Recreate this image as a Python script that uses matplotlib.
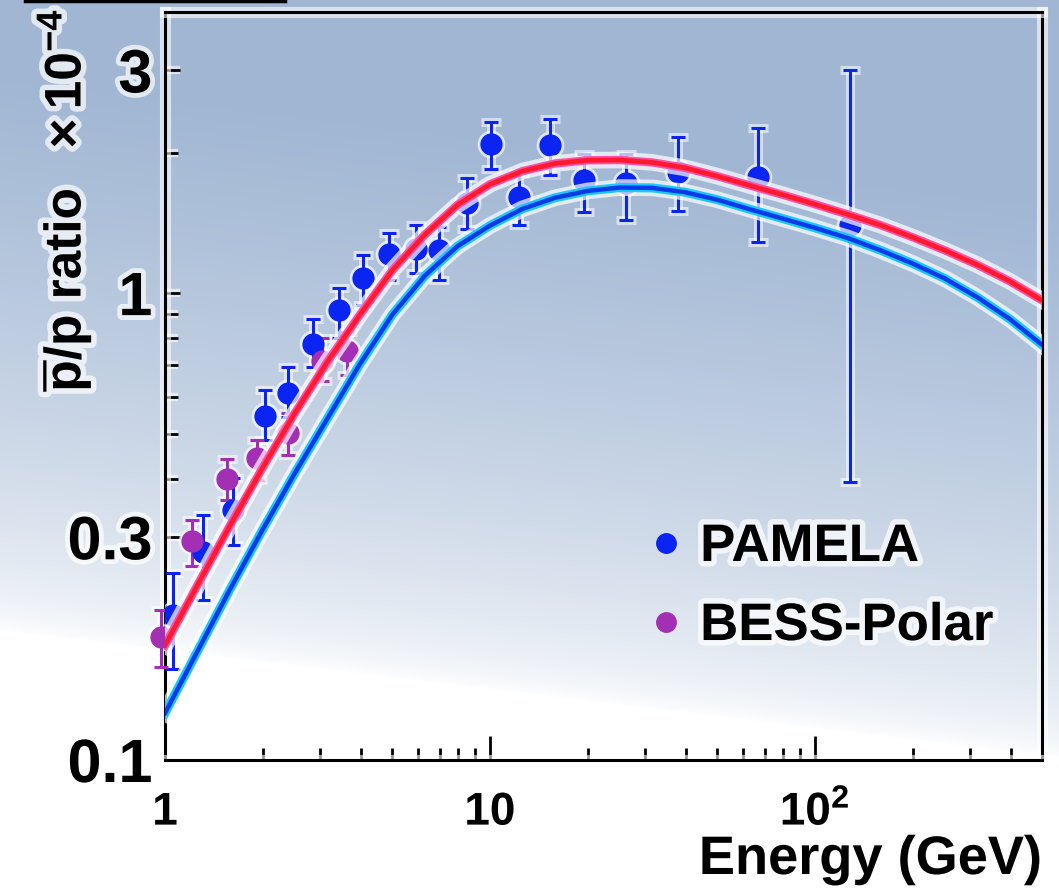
import numpy as np
import matplotlib
matplotlib.use("Agg")
import matplotlib.pyplot as plt
import matplotlib.patheffects as pe
from matplotlib.lines import Line2D
from matplotlib.ticker import FixedLocator, FixedFormatter, NullFormatter

plt.rcParams['font.family'] = ['Liberation Sans', 'DejaVu Sans']
plt.rcParams['font.weight'] = 'bold'
plt.rcParams['mathtext.fontset'] = 'custom'
plt.rcParams['mathtext.rm'] = 'Liberation Sans:bold'
plt.rcParams['mathtext.bf'] = 'Liberation Sans:bold'
plt.rcParams['mathtext.it'] = 'Liberation Sans:bold'
plt.rcParams['mathtext.sf'] = 'Liberation Sans:bold'

# ---- measurements (antiproton / proton ratio, units of 1e-4) ----
pamela_E = [1.055, 1.305, 1.614, 2.025, 2.385, 2.846, 3.42, 4.06, 4.88, 5.91,
            6.96, 8.48, 10.06, 12.27, 15.28, 19.45, 26.2, 37.9, 66.8, 128.3]
pamela_ratio = [0.2045, 0.279, 0.343, 0.545, 0.61, 0.777, 0.918, 1.075, 1.21, 1.246,
                1.234, 1.556, 2.09, 1.61, 2.08, 1.75, 1.725, 1.82, 1.777, 1.396]
pamela_hi = [0.251, 0.334, 0.402, 0.619, 0.694, 0.878, 1.028, 1.204, 1.342, 1.396,
             1.382, 1.76, 2.33, 1.81, 2.36, 1.99, 1.99, 2.16, 2.26, 3.01]
pamela_lo = [0.157, 0.220, 0.289, 0.484, 0.542, 0.694, 0.80, 0.941, 1.065, 1.102,
             1.065, 1.369, 1.84, 1.40, 1.79, 1.49, 1.437, 1.50, 1.284, 0.394]

bess_E = [0.975, 1.215, 1.547, 1.913, 2.384, 3.034, 3.62]
bess_ratio = [0.1835, 0.294, 0.3995, 0.443, 0.501, 0.714, 0.75]
bess_hi = [0.21, 0.3265, 0.441, 0.484, 0.553, 0.80, 0.824]
bess_lo = [0.158, 0.260, 0.360, 0.3975, 0.4496, 0.647, 0.667]

# ---- model curves ----
model_E = [1.0, 1.259, 1.585, 1.995, 2.512, 3.162, 3.981, 5.012, 6.310, 7.943,
           10.0, 12.59, 15.85, 19.95, 25.12, 31.62, 39.81, 50.1, 63.1, 79.4,
           100.0, 125.9, 158.5, 199.5, 251.0, 316.0, 398.0, 500.0]
upper_ratio = [0.176, 0.237, 0.318, 0.422, 0.554, 0.713, 0.899, 1.12, 1.335, 1.545,
               1.71, 1.825, 1.895, 1.925, 1.928, 1.905, 1.855, 1.78, 1.70, 1.625,
               1.55, 1.475, 1.40, 1.318, 1.235, 1.15, 1.06, 0.965]
lower_ratio = [0.126, 0.171, 0.232, 0.311, 0.412, 0.539, 0.705, 0.90, 1.09, 1.26,
               1.395, 1.515, 1.60, 1.655, 1.683, 1.68, 1.645, 1.585, 1.512, 1.445,
               1.38, 1.313, 1.237, 1.158, 1.075, 0.98, 0.88, 0.775]

x_ticks = [1, 10, 100]
x_ticklabels = ['1', '10', r'$10^{2}$']
y_ticks = [0.1, 0.3, 1, 3]
y_ticklabels = ['0.1', '0.3', '1', '3']

W, H, DPI = 1059, 892, 100
fig = plt.figure(figsize=(W / DPI, H / DPI), dpi=DPI)

# sky-like backdrop: pale blue above a slanted edge, white below
yy, xx = np.mgrid[0:H, 0:W].astype(float)
edge = 600 + 0.12 * xx
d = edge - yy
f = np.clip((d + 30) / 560, 0, 1) ** 0.6
top = np.array([160, 182, 211]) / 255.0
img = 1 + (top[None, None, :] - 1) * f[..., None]
bg = fig.add_axes([0, 0, 1, 1], zorder=-10)
bg.imshow(img, aspect='auto', extent=[0, 1, 0, 1], interpolation='bilinear')
bg.axis('off')

# dark bar clipped at the very top-left
fig.add_artist(Line2D([25 / W, 285 / W], [1 - 1.2 / H, 1 - 1.2 / H],
                      color='black', lw=2.5, transform=fig.transFigure))

ax = fig.add_axes([165 / W, 1 - 760 / H, (1042 - 165) / W, (760 - 12) / H])
ax.set_facecolor('none')
ax.set_xscale('log')
ax.set_yscale('log')
ax.set_xlim(1, 500)
ax.set_ylim(0.1, 4.0)


def glow(w, a=0.7):
    return [pe.Stroke(linewidth=w, foreground='white', alpha=a), pe.Normal()]


def draw_points(E, r, lo, hi, color, clip=True):
    r = np.asarray(r)
    yerr = np.vstack([r - np.asarray(lo), np.asarray(hi) - r])
    # pale halo underneath, then the coloured points
    halo = ax.errorbar(E, r, yerr=yerr, fmt='o', color='white', ms=19, mec='white',
                       elinewidth=6.5, capsize=7, capthick=6.5, alpha=0.55, zorder=2.5)
    main = ax.errorbar(E, r, yerr=yerr, fmt='o', color=color, ms=15, mec=color,
                       elinewidth=2.2, capsize=5, capthick=2.2, zorder=3)
    for cont in (halo, main):
        for art in [cont.lines[0], *cont.lines[1], *cont.lines[2]]:
            art.set_clip_on(clip)
    return main


draw_points(pamela_E, pamela_ratio, pamela_lo, pamela_hi, '#0a24f2')
draw_points(bess_E, bess_ratio, bess_lo, bess_hi, '#a22fb4', clip=False)

# model curves on top of the points with a soft halo
ax.plot(model_E, lower_ratio, color='#0a3ae8', lw=3.2, zorder=5,
        solid_joinstyle='round',
        path_effects=[pe.Stroke(linewidth=12, foreground='white', alpha=0.7),
                      pe.Stroke(linewidth=6.5, foreground='#18c8ff'),
                      pe.Normal()])
ax.plot(model_E, upper_ratio, color='#ff1a2e', lw=3.4, zorder=6,
        solid_joinstyle='round',
        path_effects=[pe.Stroke(linewidth=12, foreground='white', alpha=0.7),
                      pe.Stroke(linewidth=6, foreground='#ff50a8'),
                      pe.Normal()])

# axes frame and ticks
for s in ax.spines.values():
    s.set_linewidth(2.2)
    s.set_color('black')
    s.set_path_effects(glow(8, 0.6))

ax.xaxis.set_major_locator(FixedLocator(x_ticks))
ax.xaxis.set_major_formatter(FixedFormatter(x_ticklabels))
ax.xaxis.set_minor_locator(FixedLocator([k * 10 ** p for p in range(3) for k in range(2, 10)
                                         if k * 10 ** p <= 500]))
ax.xaxis.set_minor_formatter(NullFormatter())
ax.yaxis.set_major_locator(FixedLocator(y_ticks))
ax.yaxis.set_major_formatter(FixedFormatter(y_ticklabels))
ax.yaxis.set_minor_locator(FixedLocator([0.2, 0.4, 0.5, 0.6, 0.7, 0.8, 0.9, 2]))
ax.yaxis.set_minor_formatter(NullFormatter())

ax.tick_params(which='both', direction='in', width=2.0, color='black', top=False, right=False)
ax.tick_params(which='major', length=17)
ax.tick_params(which='minor', length=9)
ax.tick_params(axis='y', which='major', length=11)
ax.tick_params(axis='x', labelsize=33, pad=22)
ax.tick_params(axis='y', labelsize=44, pad=9)
# longer marks at the decades on the y axis
for t in ax.yaxis.get_major_ticks():
    if t.get_loc() in (0.1, 1):
        t.tick1line.set_markersize(18)

for lab in ax.get_xticklabels() + ax.get_yticklabels():
    lab.set_fontweight('bold')
    lab.set_path_effects(glow(7, 0.7))
for t in ax.xaxis.get_major_ticks() + ax.xaxis.get_minor_ticks() + \
         ax.yaxis.get_major_ticks() + ax.yaxis.get_minor_ticks():
    t.tick1line.set_path_effects(glow(6, 0.6))

text_glow = glow(8, 0.7)
fig.text(1042 / W, 1 - 860 / H, 'Energy (GeV)', ha='right', va='center',
         fontsize=39, fontweight='bold', path_effects=text_glow)
fig.text(64 / W, 1 - 9 / H, r'$\overline{\mathrm{p}}\mathrm{/p\ ratio\ \ \times10^{-4}}$',
         rotation=90, ha='center', va='top', fontsize=37, path_effects=text_glow)

handles = [Line2D([], [], ls='', marker='o', ms=14, color='#0a24f2', mec='#0a24f2'),
           Line2D([], [], ls='', marker='o', ms=14, color='#a22fb4', mec='#a22fb4')]
leg = ax.legend(handles, ['PAMELA', 'BESS-Polar'], loc='upper left',
                bbox_to_anchor=((650 - 165) / (1042 - 165), (760 - 522) / (760 - 12)),
                frameon=False, prop={'size': 38, 'weight': 'bold'},
                handlelength=0.6, handletextpad=0.35, labelspacing=0.55,
                borderpad=0, borderaxespad=0)
for t in leg.get_texts():
    t.set_path_effects(text_glow)

fig.savefig('out.png', dpi=DPI)
